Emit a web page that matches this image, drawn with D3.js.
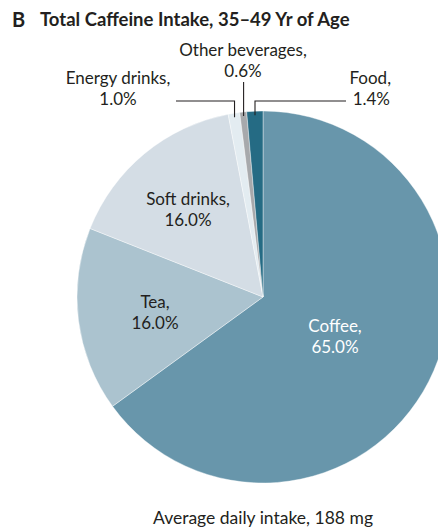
<!DOCTYPE html>
<html>
<head>
<meta charset="utf-8">
<script src="https://cdn.jsdelivr.net/npm/d3@7"></script>
<style>
  body { margin: 0; background: #fff; }
  svg { display: block; font-family: Lato, "Open Sans", sans-serif; }
</style>
</head>
<body>
<svg width="438" height="528"></svg>
<script>
// slices, clockwise from 12 o'clock
var categories = ['Coffee', 'Tea', 'Soft drinks', 'Energy drinks', 'Other beverages', 'Food'];
var shares = [65.0, 16.0, 16.0, 1.0, 0.6, 1.4];
var colors = ['#6896ab', '#abc3cf', '#d4dde5', '#e3ecf1', '#a7a9ac', '#256b84'];

var svg = d3.select('svg');
var cx = 263, cy = 297, r = 186;
var ink = '#231f20';

// title
var title = svg.append('text').attr('x', 12).attr('y', 27)
    .attr('font-size', 20).attr('font-weight', 'bold').attr('fill', ink);
title.append('tspan').text('B');
title.append('tspan').attr('x', 40).attr('y', 26).attr('font-size', 18.5).text('Total Caffeine Intake, 35\u201349 Yr of Age');

var rows = categories.map(function(c, i) { return { name: c, value: shares[i], color: colors[i] }; });

var pie = d3.pie().sort(null).value(function(d) { return d.value; });
var arcs = pie(rows);
var arc = d3.arc().innerRadius(0).outerRadius(r);

var g = svg.append('g').attr('transform', 'translate(' + cx + ',' + cy + ')');

g.selectAll('path').data(arcs).enter().append('path')
    .attr('d', arc)
    .attr('fill', function(d) { return d.data.color; })
    .attr('stroke', '#fff')
    .attr('stroke-width', 0.4);

// inside labels
var inside = { 'Coffee': [72, 35, '#fff'], 'Tea': [-108, 11, ink], 'Soft drinks': [-75, -92, ink] };

arcs.forEach(function(d) {
    var p = inside[d.data.name];
    if (!p) return;
    var t = g.append('text').attr('text-anchor', 'middle').attr('font-size', 17).attr('fill', p[2]);
    t.append('tspan').attr('x', p[0]).attr('y', p[1]).text(d.data.name + ',');
    t.append('tspan').attr('x', p[0]).attr('y', p[1] + 21).text(d.data.value.toFixed(1) + '%');
});

// small slices: leader lines from the rim
function rim(d, rad) {
    var a = (d.startAngle + d.endAngle) / 2;
    return [Math.sin(a) * rad, -Math.cos(a) * rad];
}

var lineY = 101 - cy;
var outside = {
    'Energy drinks': { lineTo: 176, tx: 118, ty: 84, anchor: 'middle' },
    'Other beverages': { lineTo: null, tx: 243, ty: 56, anchor: 'middle' },
    'Food': { lineTo: 346, tx: 391, ty: 84, anchor: 'end' }
};

arcs.forEach(function(d) {
    var o = outside[d.data.name];
    if (!o) return;
    var p = rim(d, r - 4);
    var pts;
    if (o.lineTo === null) {
        pts = [[p[0], p[1]], [p[0], 82 - cy]];
    } else {
        pts = [[p[0], p[1]], [p[0], lineY], [o.lineTo - cx, lineY]];
    }
    g.append('path')
        .attr('d', d3.line()(pts))
        .attr('fill', 'none')
        .attr('stroke', ink)
        .attr('stroke-width', 1.1);

    var t = svg.append('text').attr('text-anchor', o.anchor).attr('font-size', 17).attr('fill', ink);
    var tx = o.tx;
    t.append('tspan').attr('x', tx).attr('y', o.ty).text(d.data.name + ',');
    t.append('tspan').attr('x', o.anchor === 'end' ? tx - 1 : tx).attr('y', o.ty + 21).text(d.data.value.toFixed(1) + '%');
});

svg.append('text').attr('x', cx).attr('y', 524).attr('text-anchor', 'middle')
    .attr('font-size', 17.5).attr('fill', ink)
    .text('Average daily intake, 188 mg');
</script>
</body>
</html>
